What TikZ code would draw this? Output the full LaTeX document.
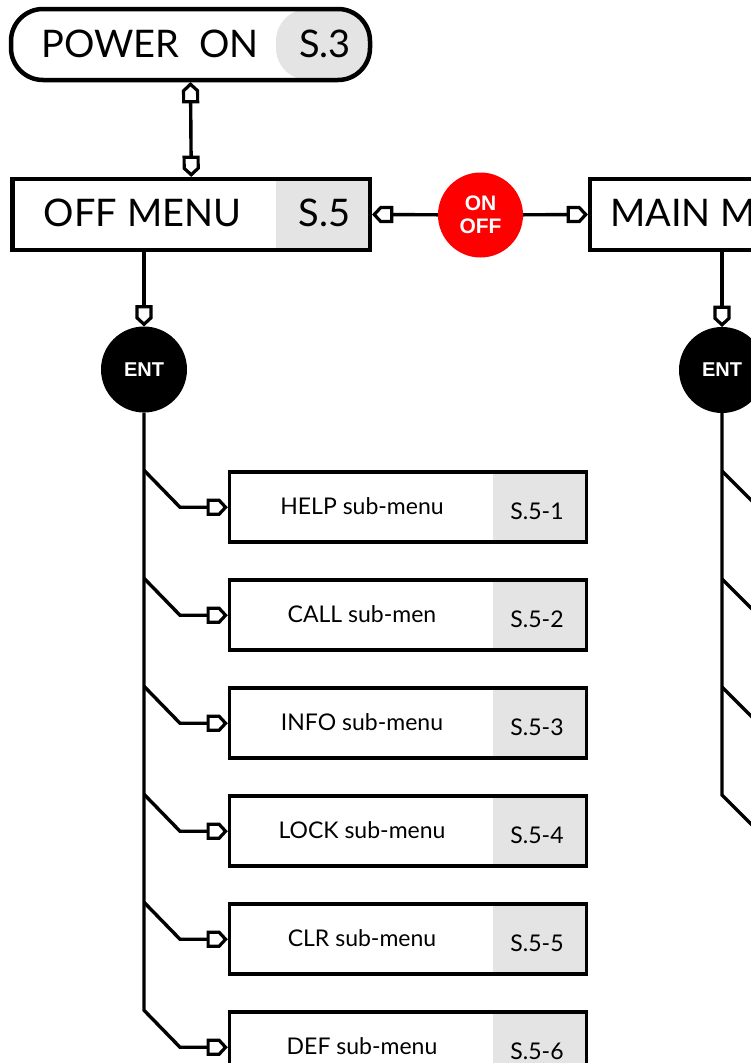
\documentclass[tikz,border=0pt]{standalone}
\usepackage{fontspec}
\setmainfont{Lato}
\newfontfamily\arialf{Liberation Sans}
\usetikzlibrary{arrows.meta,calc}
\definecolor{lgray}{RGB}{228,228,228}
\definecolor{onred}{RGB}{255,0,0}
\pgfdeclarearrow{
  name = House,
  setup code = {
    \pgfarrowssettipend{19.5pt}
    \pgfarrowssetlineend{0.5pt}
    \pgfarrowssetvisualbackend{0pt}
    \pgfarrowssetbackend{0pt}
    \pgfarrowshullpoint{19.5pt}{0pt}
    \pgfarrowsupperhullpoint{0pt}{9pt}
    \pgfarrowsupperhullpoint{12pt}{9pt}
  },
  drawing code = {
    \pgfsetdash{}{0pt}
    \pgfsetmiterjoin
    \pgfsetlinewidth{3.2pt}
    \pgfpathmoveto{\pgfqpoint{17.5pt}{0pt}}
    \pgfpathlineto{\pgfqpoint{11pt}{7pt}}
    \pgfpathlineto{\pgfqpoint{0pt}{7pt}}
    \pgfpathlineto{\pgfqpoint{0pt}{-7pt}}
    \pgfpathlineto{\pgfqpoint{11pt}{-7pt}}
    \pgfpathclose
    \pgfsetfillcolor{white}
    \pgfusepathqfillstroke
  }
}
\begin{document}
\begin{tikzpicture}[x=1pt,y=-1pt,
  graypart/.style={path picture={\fill[lgray] ([xshift=-#1]path picture bounding box.north east) rectangle (path picture bounding box.south east);}},
  bigbox/.style={draw, line width=4.5pt, minimum width=357.5pt, minimum height=71pt, inner sep=0pt, outer sep=2.25pt, fill=white},
  subbox/.style={draw, line width=3.8pt, minimum width=357pt, minimum height=70pt, inner sep=0pt, outer sep=1.9pt, fill=white},
  biglbl/.style={font=\fontsize{38}{38}\selectfont, inner sep=0pt},
  sublbl/.style={font=\fontsize{23}{23}\selectfont, inner sep=0pt},
  keycirc/.style={circle, minimum size=86pt, inner sep=0pt, text=white, align=center, font=\arialf\bfseries\fontsize{20}{23}\selectfont},
  conn/.style={draw, line width=3.4pt, line join=miter}]
\useasboundingbox (0,0) rectangle (751,1063);
\clip (0,0) rectangle (751,1063);
\fill[white] (0,0) rectangle (751,1063);

% top boxes
\node[bigbox, rounded corners=32pt, graypart=94pt, minimum width=359pt] (pw) at (190.5,44.5) {};
\node[biglbl] (pwl) at (150,43.5) {POWER\ \ ON};
\node[biglbl] (pwn) at (325,43.5) {S.3};

\node[bigbox, graypart=94pt] (off) at (191.25,214.5) {};
\node[biglbl] (offl) at (142.5,213) {OFF MENU};
\node[biglbl] (offn) at (324.5,213) {S.5};

\node[bigbox, graypart=94pt] (main) at (768.75,214.5) {};
\node[biglbl, anchor=west] (mainl) at (610,213) {MAIN MENU};

\node[keycirc, fill=onred, minimum size=85pt, font=\arialf\bfseries\fontsize{21}{23}\selectfont] (onoff) at (480.5,215) {ON\\OFF};
\node[keycirc, fill=black] (ent1) at (144,369.5) {ENT};
\node[keycirc, fill=black] (ent2) at (722,370) {ENT};

% sub-menus
\foreach \k/\n/\lbl in {0/1/HELP sub-menu, 1/2/CALL sub-men, 2/3/INFO sub-menu, 3/4/LOCK sub-menu, 4/5/CLR sub-menu, 5/6/DEF sub-menu} {
  \node[subbox, graypart=93.5pt] (sb\k) at (408,507.25+108*\k) {};
  \node[sublbl] (sl\k) at (362,506+108*\k) {\lbl};
  \node[sublbl] (sn\k) at (537,511+108*\k) {S.5-\n};
}

% connectors
\draw[conn, {House}-{House}] (pw.south) -- (off.north);
\draw[conn, -{House}] (onoff) -- (off.east);
\draw[conn, -{House}] (onoff) -- (main.west);
\draw[conn, -{House}] (ent1 |- off.south) -- (ent1.north);
\draw[conn, -{House}] (ent2 |- main.south) -- (ent2.north);

\draw[conn, -{House}] (ent1.south) -- ($(ent1 |- sb5.west)+(0,-37)$) -- ($(ent1 |- sb5.west)+(36,0)$) -- (sb5.west);
\foreach \k in {0,...,4} {
  \draw[conn, -{House}] ($(ent1 |- sb\k.west)+(0,-37)$) -- ($(ent1 |- sb\k.west)+(36,0)$) -- (sb\k.west);
}

% right column (continues beyond the picture)
\foreach \k in {0,...,3} {
  \coordinate (rj\k) at (722,471+108*\k);
  \coordinate (re\k) at (772,521+108*\k);
}
\draw[conn] (ent2.south) -- (rj3) -- (re3);
\foreach \k in {0,1,2} {
  \draw[conn] (rj\k) -- (re\k);
}
\end{tikzpicture}
\end{document}
